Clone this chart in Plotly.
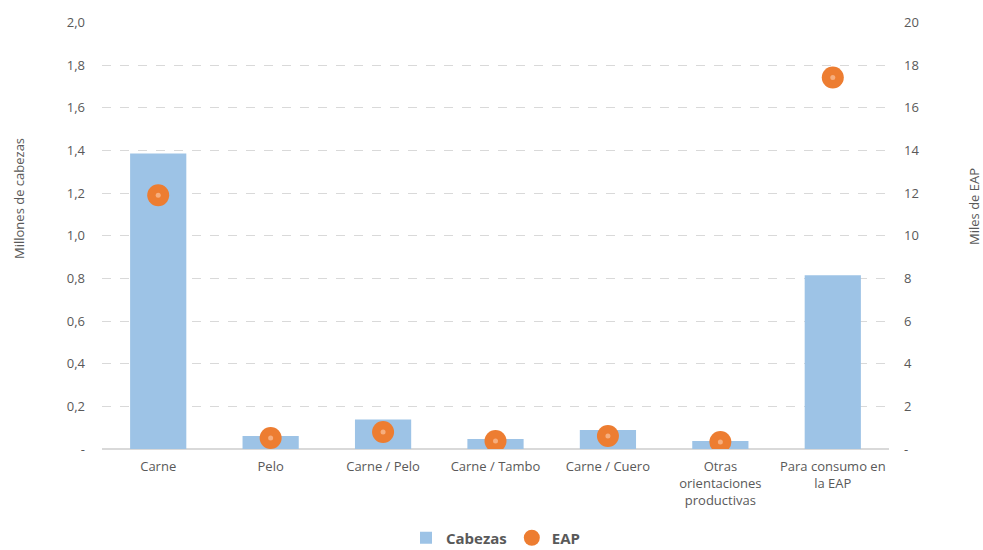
import plotly.graph_objects as go

categorias = ["Carne", "Pelo", "Carne / Pelo", "Carne / Tambo", "Carne / Cuero",
              "Otras<br>orientaciones<br>productivas", "Para consumo en<br>la EAP"]
cabezas_millones = [1.385, 0.061, 0.138, 0.047, 0.089, 0.037, 0.815]
eap_miles = [11.9, 0.52, 0.80, 0.37, 0.61, 0.33, 17.42]

left_ticks = [0, 0.2, 0.4, 0.6, 0.8, 1.0, 1.2, 1.4, 1.6, 1.8, 2.0]
left_labels = ["-", "0,2", "0,4", "0,6", "0,8", "1,0", "1,2", "1,4", "1,6", "1,8", "2,0"]
right_ticks = [0, 2, 4, 6, 8, 10, 12, 14, 16, 18, 20]
right_labels = ["-", "2", "4", "6", "8", "10", "12", "14", "16", "18", "20"]

FONT = "Open Sans"
GREY = "#595959"

W, H = 983, 550
ML, MR, MT, MB = 102, 94, 22, 101
PW = W - ML - MR
PH = H - MT - MB

fig = go.Figure()
fig.add_trace(go.Bar(x=categorias, y=cabezas_millones, name="Cabezas",
                     marker=dict(color="#9DC3E6", line=dict(width=0)), width=0.5,
                     yaxis="y"))
fig.add_trace(go.Scatter(x=categorias, y=eap_miles, name="EAP", mode="markers",
                         marker=dict(color="#ED7D31", size=22), yaxis="y2"))
fig.add_trace(go.Scatter(x=categorias, y=eap_miles, name="EAP centro", mode="markers",
                         marker=dict(color="#F6AE7E", size=5), yaxis="y2",
                         showlegend=False, hoverinfo="skip"))

fig.update_layout(
    width=W, height=H,
    margin=dict(l=ML, r=MR, t=MT, b=MB),
    plot_bgcolor="white", paper_bgcolor="white",
    font=dict(family=FONT, size=13, color=GREY),
    xaxis=dict(showgrid=False, showline=False, ticks="", automargin=False,
               tickfont=dict(size=13, color=GREY), ticklabelstandoff=8),
    yaxis=dict(range=[0, 2.002], tickvals=left_ticks, ticktext=left_labels,
               showgrid=True, gridcolor="#D9D9D9", griddash="dash", gridwidth=1,
               zeroline=True, zerolinecolor="#D9D9D9", zerolinewidth=1.5,
               automargin=False, tickfont=dict(size=13, color=GREY),
               ticklabelstandoff=16),
    yaxis2=dict(range=[0, 20.02], tickvals=right_ticks, ticktext=right_labels,
                overlaying="y", side="right", showgrid=False, zeroline=False,
                automargin=False, tickfont=dict(size=13, color=GREY),
                ticklabelstandoff=14),
    legend=dict(orientation="h", x=0.5, xanchor="center",
                yref="container", y=1 - 538 / H, yanchor="middle",
                font=dict(size=15, color=GREY, family=FONT, weight="bold"),
                itemwidth=30, tracegroupgap=0),
    annotations=[
        dict(text="Millones de cabezas", textangle=-90, xref="paper", yref="paper",
             x=(19 - ML) / PW, y=(449 - 199) / PH, xanchor="center", yanchor="middle",
             showarrow=False, font=dict(size=13, color=GREY)),
        dict(text="Miles de EAP", textangle=-90, xref="paper", yref="paper",
             x=(974 - ML) / PW, y=(449 - 207) / PH, xanchor="center", yanchor="middle",
             showarrow=False, font=dict(size=13, color=GREY)),
    ],
)

fig.write_html("out.html", config={"displayModeBar": False},
               post_script="document.body.style.margin='0';document.body.style.overflow='hidden';")
